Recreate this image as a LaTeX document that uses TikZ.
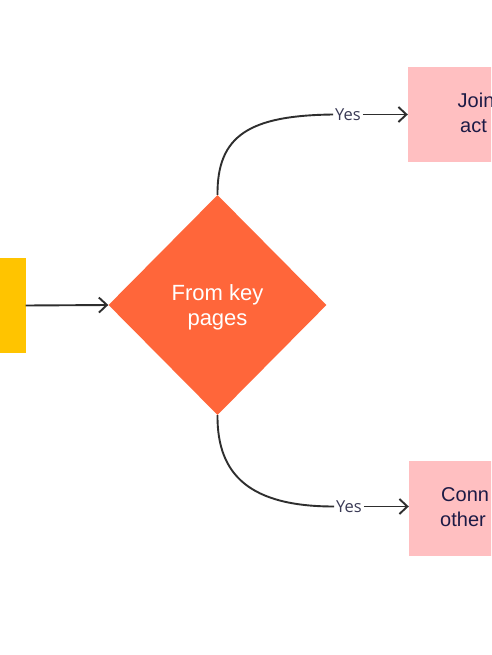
\documentclass[tikz,border=0pt]{standalone}
\usepackage{fontspec}
\setmainfont{Liberation Sans}
\newfontfamily\yesfont{Open Sans}
\usetikzlibrary{arrows.meta,shapes.geometric}
\definecolor{ylw}{HTML}{FFC400}
\definecolor{orng}{HTML}{FF663A}
\definecolor{pnk}{HTML}{FFBFC1}
\definecolor{navy}{HTML}{1C1A45}
\definecolor{lbl}{HTML}{3A3A55}
\definecolor{ln}{HTML}{2E2E2E}
\tikzset{
  conn/.style={draw=ln, line width=1.9pt},
  arr/.style={conn, -{Straight Barb[length=8pt,width=15pt,line width=1.9pt]}},
  boxpink/.style={rectangle, fill=pnk, minimum width=130pt, minimum height=95pt, inner sep=0pt},
  boxtext/.style={anchor=base west, inner sep=0pt, text=navy, font=\fontsize{20}{24}\selectfont},
  yeslbl/.style={fill=white, inner sep=2pt, text=lbl, font=\yesfont\fontsize{16.5}{18}\selectfont},
}
\begin{document}
\begin{tikzpicture}[x=1pt,y=-1pt]
\useasboundingbox (0,0) rectangle (491,655);
\clip (0,0) rectangle (491,655);
\fill[white] (0,0) rectangle (491,655);
% yellow box (cropped)
\node[rectangle, fill=ylw, minimum width=60pt, minimum height=95.5pt, inner sep=0pt] (src) at (-4.5,305.5) {};
% diamond
\node[diamond, fill=orng, minimum width=218pt, minimum height=220pt, inner sep=0pt, aspect=1] (dec) at (217.5,305) {};
\node[text=white, align=center, font=\fontsize{22}{25}\selectfont] (dect) at (217.5,307) {From key\\pages};
% pink boxes
\node[boxpink] (top) at (473,114.5) {};
\node[boxpink] (bot) at (474,508) {};
\node[boxtext] (toptxt1) at (457.5,108) {Join};
\node[boxtext] (toptxt2) at (460,133) {act};
\node[boxtext] (bottxt1) at (441,501.5) {Conn};
\node[boxtext] (bottxt2) at (440,526.5) {other};
% labels
\node[yeslbl] (y1) at (348,114.5) {Yes};
\node[yeslbl] (y2) at (349,506.5) {Yes};
% connectors
\draw[arr] (src.east) -- (dec.west);
\draw[conn] (dec.north) .. controls (217,135) and (250,115.5) .. (y1.west);
\draw[arr] (y1.east) -- (top.west |- y1.east);
\draw[conn] (dec.south) .. controls (217,475) and (250,506.5) .. (y2.west);
\draw[arr] (y2.east) -- (bot.west |- y2.east);
\end{tikzpicture}
\end{document}
